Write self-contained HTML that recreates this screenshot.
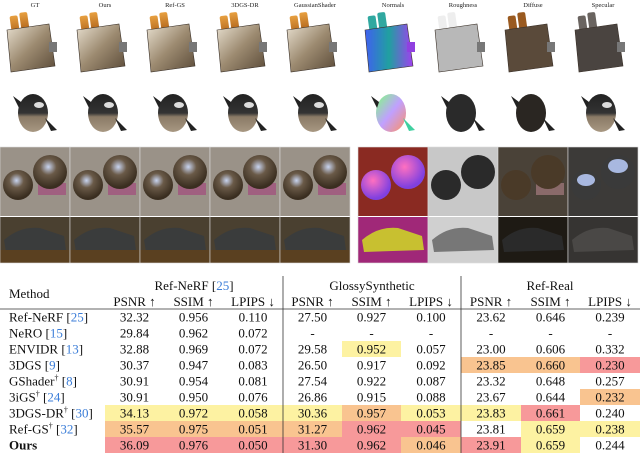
<!DOCTYPE html>
<html><head><meta charset="utf-8">
<style>
html,body{margin:0;padding:0;background:#fff;width:640px;height:470px;overflow:hidden}
svg{display:block}
text{font-family:"Liberation Serif",serif}
</style></head>
<body>
<svg id="fig" width="640" height="470" viewBox="0 0 640 470" xmlns="http://www.w3.org/2000/svg">
<defs>
<linearGradient id="chrome" x1="0" y1="0" x2="1" y2="1"><stop offset="0" stop-color="#e8e0d0"/><stop offset="0.5" stop-color="#9c8a70"/><stop offset="1" stop-color="#5a4a38"/></linearGradient>
<linearGradient id="toast" x1="0" y1="0" x2="0" y2="1"><stop offset="0" stop-color="#e8a040"/><stop offset="1" stop-color="#b0651c"/></linearGradient>
<linearGradient id="norm" x1="0" y1="0" x2="1" y2="0"><stop offset="0" stop-color="#4060f0"/><stop offset="0.5" stop-color="#20a0a0"/><stop offset="1" stop-color="#a040f0"/></linearGradient>
<linearGradient id="pot" x1="0" y1="0" x2="0" y2="1"><stop offset="0" stop-color="#222"/><stop offset="0.5" stop-color="#333"/><stop offset="0.6" stop-color="#8a7a66"/><stop offset="1" stop-color="#a89882"/></linearGradient>
<linearGradient id="potn" x1="0" y1="0" x2="1" y2="1"><stop offset="0" stop-color="#80ff80"/><stop offset="0.5" stop-color="#c0a0ff"/><stop offset="1" stop-color="#ff9060"/></linearGradient>
<radialGradient id="sph" cx="0.45" cy="0.35" r="0.6"><stop offset="0" stop-color="#c8d4f0"/><stop offset="0.4" stop-color="#6a5a48"/><stop offset="1" stop-color="#3a2e20"/></radialGradient>
<radialGradient id="sphn" cx="0.4" cy="0.35" r="0.6"><stop offset="0" stop-color="#ff70c0"/><stop offset="1" stop-color="#8040e0"/></radialGradient>
</defs>
<g id="images"></g>
<g id="table"></g>
</svg>
<script>
const colLabels = ["GT","Ours","Ref-GS","3DGS-DR","GaussianShader","Normals","Roughness","Diffuse","Specular"];
const methods = ["Ref-NeRF [25]","NeRO [15]","ENVIDR [13]","3DGS [9]","GShader† [8]","3iGS† [24]","3DGS-DR† [30]","Ref-GS† [32]","Ours"];
const refNerf = [["32.32","0.956","0.110"],["29.84","0.962","0.072"],["32.88","0.969","0.072"],["30.37","0.947","0.083"],["30.91","0.954","0.081"],["30.91","0.950","0.076"],["34.13","0.972","0.058"],["35.57","0.975","0.051"],["36.09","0.976","0.050"]];
const glossy = [["27.50","0.927","0.100"],["-","-","-"],["29.58","0.952","0.057"],["26.50","0.917","0.092"],["27.54","0.922","0.087"],["26.86","0.915","0.088"],["30.36","0.957","0.053"],["31.27","0.962","0.045"],["31.30","0.962","0.046"]];
const refReal = [["23.62","0.646","0.239"],["-","-","-"],["23.00","0.606","0.332"],["23.85","0.660","0.230"],["23.32","0.648","0.257"],["23.67","0.644","0.232"],["23.83","0.661","0.240"],["23.81","0.659","0.238"],["23.91","0.659","0.244"]];
// rank highlight: 0 none, 1 yellow(3rd), 2 orange(2nd), 3 red(1st)
const ranks = [
[0,0,0, 0,0,0, 0,0,0],[0,0,0, 0,0,0, 0,0,0],[0,0,0, 0,1,0, 0,0,0],
[0,0,0, 0,0,0, 2,2,3],[0,0,0, 0,0,0, 0,0,0],[0,0,0, 0,0,0, 0,0,2],
[1,1,1, 1,2,1, 1,3,0],[2,2,2, 2,3,3, 0,1,1],[3,3,3, 3,3,2, 3,1,0]];
const NS="http://www.w3.org/2000/svg";
function mk(tag,attrs,parent,txt){const e=document.createElementNS(NS,tag);for(const k in attrs)e.setAttribute(k,attrs[k]);if(txt!==undefined)e.textContent=txt;parent.appendChild(e);return e;}
const img=document.getElementById('images');
const colX=[0,70,140,210,280,358,428,498,568];
colLabels.forEach((l,i)=>{
  const t=mk('text',{x:colX[i]+35,y:7,'font-size':6.5,'text-anchor':'middle',fill:'#222'},img,l);
  
  
  // toaster
  const g=mk('g',{},img);
  
  
  const cx=colX[i]+35;
  const body=i==5?'url(#norm)':i==6?'#b8b8b8':i==7?'#5a4a3a':i==8?'#4a4440':'url(#chrome)';
  const tst=i==5?'#30a8a0':i==6?'#eee':i==7?'#9a5a20':i==8?'#6a6460':'url(#toast)';
  mk('rect',{x:cx-22,y:13,width:8,height:18,rx:2,fill:tst,transform:`rotate(-8 ${cx} 40)`},g);
  mk('rect',{x:cx-12,y:11,width:8,height:18,rx:2,fill:tst,transform:`rotate(-8 ${cx} 40)`},g);
  mk('path',{d:`M${cx-28} 30 L${cx+14} 24 L${cx+20} 66 L${cx-24} 72 Z`,fill:body,stroke:'#3a3028','stroke-width':0.6},g);
  mk('rect',{x:cx+14,y:42,width:8,height:10,fill:i==5?'#9040e0':'#777'},g);
  // teapot
  const p=mk('g',{},img);
  
  
  const pf=i==5?'url(#potn)':i==6?'#2a2a2a':i==7?'#2a2622':'url(#pot)';
  mk('ellipse',{cx:cx-2,cy:113,rx:15,ry:19,fill:pf},p);
  mk('path',{d:`M${cx+10} 118 L${cx+22} 130 L${cx+16} 131 Z`,fill:i==5?'#40d0a0':'#222'},p);
  mk('path',{d:`M${cx-14} 102 L${cx-22} 96 L${cx-16} 108 Z`,fill:'#222'},p);
  if(i<5||i==8) mk('ellipse',{cx:cx+4,cy:105,rx:5,ry:3,fill:'#ddd'},p);
});
// photo rows
for(let i=0;i<9;i++){
  const x=colX[i], w=70;
  const bg=i==5?'#8a2a22':i==6?'#c8c8c8':i==7?'#4a4238':i==8?'#3c3a38':'#9a9288';
  const r=mk('rect',{x:x,y:147,width:w,height:69,fill:bg},img);
  
  
  const sf=i==5?'url(#sphn)':i==6?'#2a2a2a':i==7?'#4a3a28':i==8?'#3a3a3a':'url(#sph)';
  if(i<5||i==7) mk('rect',{x:x+38,y:183,width:28,height:12,fill:i==7?'#8a6a6a':'#a06080'},img);
  mk('circle',{cx:x+18,cy:185,r:15,fill:sf},img);
  mk('circle',{cx:x+50,cy:172,r:17,fill:sf},img);
  if(i==8){mk('ellipse',{cx:x+18,cy:180,rx:9,ry:6,fill:'#a8b8e0'},img);mk('ellipse',{cx:x+50,cy:166,rx:10,ry:7,fill:'#a8b8e0'},img);}
  const cb=i==5?'#a02878':i==6?'#d0d0d0':i==7?'#1e1a14':i==8?'#363432':'#4a4030';
  const c=mk('rect',{x:x,y:217,width:w,height:46,fill:cb},img);
  
  
  const car=i==5?'#c8c030':i==6?'#777':i==7?'#2a2a2a':i==8?'#4a4846':'#3a3c3c';
  mk('path',{d:`M${x+4} 240 Q${x+20} 226 ${x+40} 228 L${x+64} 236 L${x+66} 250 L${x+6} 252 Z`,fill:car},img);
  if(i<5) mk('rect',{x:x,y:250,width:w,height:13,fill:'#5a4020'},img);
  mk('rect',{x:x,y:147,width:w,height:116,fill:'none',stroke:'#ddd','stroke-width':0.6},img);
}
// table
const tb=document.getElementById('table');
function line(x1,y1,x2,y2,name){const l=mk('line',{x1,y1,x2,y2,stroke:'#333','stroke-width':0.8},tb);}
const hl=['none','#fdf2a2','#f9c490','#f7999a'];
const cellL=[105,164,223,283,342,401,461,521,580], cellW=[59,59,60,59,59,60,60,59,60];
const rowTop=309, rowH=16;
methods.forEach((m,r)=>{
  const vals=refNerf[r].concat(glossy[r],refReal[r]);
  const y=rowTop+r*rowH;
  vals.forEach((v,c)=>{
    if(ranks[r][c]){const rc=mk('rect',{x:cellL[c],y:y,width:cellW[c],height:rowH,fill:hl[ranks[r][c]]},tb);
      
      }
    const t=mk('text',{x:cellL[c]+cellW[c]/2,y:y+12.5,'font-size':13,'text-anchor':'middle',fill:'#111'},tb,v);
    
    
  });
  const mt=mk('text',{x:9,y:y+12.5,'font-size':13,fill:'#111','font-weight':m=='Ours'?'bold':'normal'},tb);
  
  
  const mm=m.match(/^(.*?)(†?)\s*(\[(\d+)\])?$/);
  mk('tspan',{},mt,mm[1]);
  if(mm[2]) mk('tspan',{'font-size':8,dy:-5},mt,'†');
  if(mm[3]){mk('tspan',{dy:mm[2]?5:0},mt,' [');mk('tspan',{fill:'#3b7dd8'},mt,mm[4]);mk('tspan',{},mt,']');}
});
const groups=[["Ref-NeRF ","25"],["GlossySynthetic",""],["Ref-Real",""]];
const gx=[194,372,550];
groups.forEach((g,i)=>{const t=mk('text',{x:gx[i],y:290,'font-size':13,'text-anchor':'middle',fill:'#111'},tb);
  
  
  mk('tspan',{},t,g[0]+(g[1]?'[':''));if(g[1]){mk('tspan',{fill:'#3b7dd8'},t,g[1]);mk('tspan',{},t,']');}});
const metrics=["PSNR ↑","SSIM ↑","LPIPS ↓"];
for(let c=0;c<9;c++){const t=mk('text',{x:cellL[c]+cellW[c]/2,y:306,'font-size':13,'text-anchor':'middle',fill:'#111'},tb,metrics[c%3]);
  
  }
const mh=mk('text',{x:9,y:298,'font-size':13,fill:'#111'},tb,'Method');


line(0,309,640,309,'header-rule');
line(283,276,283,453,'divider-1');
line(461,276,461,453,'divider-2');
</script>
</body></html>
